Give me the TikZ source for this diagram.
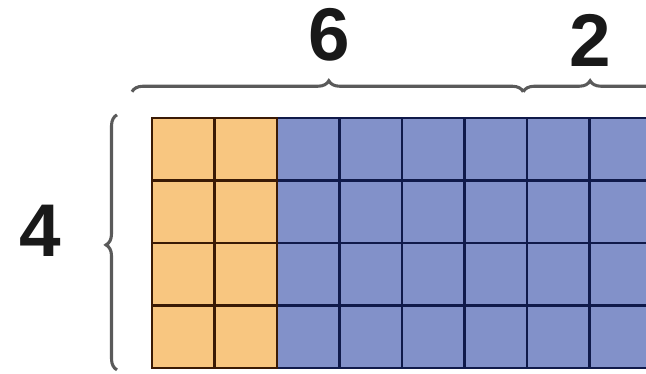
\documentclass[tikz,border=0pt]{standalone}
\usepackage{fontspec}
\setmainfont{Liberation Sans}
\usepackage{xcolor}
\usetikzlibrary{decorations.pathreplacing, positioning}
\definecolor{cellorange}{HTML}{F8C680}
\definecolor{cellblue}{HTML}{8291C9}
\definecolor{lineorange}{HTML}{3A1A05}
\definecolor{lineblue}{HTML}{101A4A}
\definecolor{bracegray}{HTML}{5A5A5A}

\begin{document}
\begin{tikzpicture}[
    bracepath/.style={draw=bracegray, line width=1.4pt,
        decorate, decoration={brace, amplitude=5pt, aspect=#1}},
    bracepath/.default=0.5,
    numlabel/.style={font=\fontsize{34}{40}\selectfont\bfseries, text=black!90}
]
    \useasboundingbox (-2.432,-0.096) rectangle (7.904,5.888);
    \clip (-2.432,-0.096) rectangle (7.904,5.888);

    % cells
    \fill[cellorange] (0,0) rectangle (2,4);
    \fill[cellblue] (2,0) rectangle (8,4);
    \draw[lineorange, line width=1.3pt] (0,0) grid (2,4);
    \draw[lineblue, line width=1.3pt] (2,0) grid (8,4);
    \draw[lineorange, line width=1.3pt] (0,0) rectangle (2,4);

    % brace ends
    \coordinate (topL) at (-0.32,4.42);
    \coordinate (topM) at (5.94,4.42);
    \coordinate (topR) at (8.08,4.42);
    \coordinate (sideB) at (-0.56,-0.03);
    \coordinate (sideT) at (-0.56,4.05);

    \draw[bracepath=0.503] (topL) -- (topM);
    \draw[bracepath] (topM) -- (topR);
    \draw[bracepath=0.49] (sideB) -- (sideT);

    \node[numlabel] (six) at (2.83,5.33) {6};
    \node[numlabel] (two) at (7.01,5.24) {2};
    \node[numlabel] (four) at (-1.79,2.19) {4};
\end{tikzpicture}
\end{document}
